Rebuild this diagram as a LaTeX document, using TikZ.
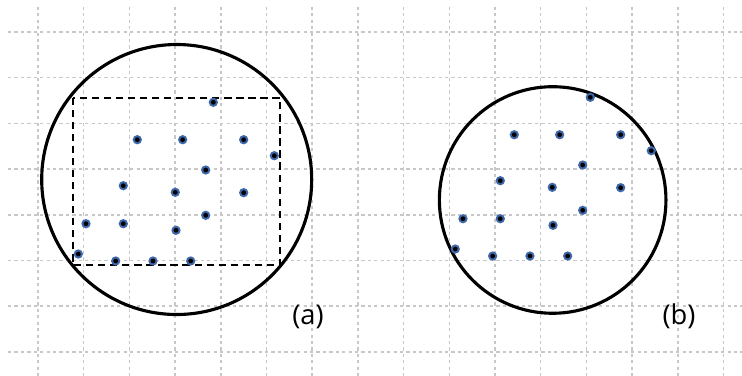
\documentclass[tikz,border=0pt]{standalone}
\usepackage{fontspec}
\setmainfont{Open Sans}
\definecolor{gridgray}{RGB}{200,200,200}
\definecolor{dotblue}{RGB}{62,104,170}

% sample points, in grid units
\def\samplepts{3.836/-1.538, 2.173/-2.357, 3.166/-2.357, 4.501/-2.357,
  5.171/-2.707, 3.670/-3.020, 1.867/-3.363, 3.004/-3.508, 4.501/-3.516,
  3.670/-4.011, 1.050/-4.195, 1.867/-4.195, 3.020/-4.339, 0.882/-4.858,
  1.700/-5.011, 2.516/-5.011, 3.341/-5.011}

\begin{document}
\begin{tikzpicture}[font=\fontsize{17}{19}\selectfont,
  gridln/.style={gridgray,line width=0.9pt,dash pattern=on 2pt off 2pt},
  bound/.style={line width=1.95pt},
  window/.style={line width=1.1pt,dash pattern=on 4.5pt off 3pt},
  lbl/.style={inner sep=0pt}]
  \useasboundingbox (-0.8315,-7.527) rectangle (15.405,0.700);
  % background grid
  \foreach \y in {0,...,7}
    \draw[gridln] (-0.655,-\y) -- (15.405,-\y);
  \foreach \x in {0,...,15}
    \draw[gridln] (\x,0.55) -- (\x,-7.527);
  % (a)
  \draw[bound] (3.035,-3.228) circle (2.954);
  \draw[window] (0.759,-1.438) rectangle (5.295,-5.098);
  \foreach \px/\py in \samplepts {
    \fill[dotblue] (\px,\py) circle (2.9pt);
    \fill[black] (\px,\py) circle (1.5pt);
  }
  \node[lbl] (la) at (5.908,-6.245) {(a)};
  % (b)
  \draw[bound] (11.262,-3.676) circle (2.479);
  \begin{scope}[shift={(8.249,0.109)}]
    \foreach \px/\py in \samplepts {
      \fill[dotblue] (\px,\py) circle (2.9pt);
      \fill[black] (\px,\py) circle (1.5pt);
    }
  \end{scope}
  \node[lbl] (lb) at (14.026,-6.23) {(b)};
\end{tikzpicture}
\end{document}
